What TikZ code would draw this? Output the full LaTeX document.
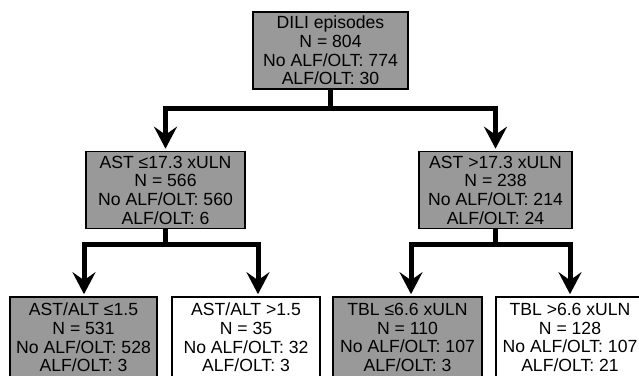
\documentclass[tikz,border=0pt]{standalone}
\usepackage{fontspec}
\setmainfont{Liberation Sans}
\usepackage{tikz}
\usetikzlibrary{positioning, arrows.meta, calc}
\definecolor{splitgrey}{RGB}{153, 153, 153}

\begin{document}
\begin{tikzpicture}[x=1pt, y=-1pt,
    box/.style={draw=black, line width=1.6pt, rectangle, inner sep=0pt,
                minimum height=77pt, align=center,
                font=\fontsize{17.6}{18.7}\selectfont},
    greybox/.style={box, fill=splitgrey},
    whitebox/.style={box, fill=white},
    link/.style={line width=5pt, line join=miter,
                 -{Stealth[length=22pt, width=23pt, inset=8pt]},
                 shorten >=2pt}]
        \useasboundingbox (0,0) rectangle (639,375);
        \clip (0,0) rectangle (639,375);

        \node[greybox, minimum width=155pt] (root) at (330.5, 50.5)
              {DILI episodes\\N = 804\\No ALF/OLT: 774\\ALF/OLT: 30};

        \node[greybox, minimum width=159pt] (astlo) at (165.5, 190)
              {AST ≤17.3 xULN\\N = 566\\No ALF/OLT: 560\\ALF/OLT: 6};
        \node[greybox, minimum width=153pt] (asthi) at (495.5, 190)
              {AST >17.3 xULN\\N = 238\\No ALF/OLT: 214\\ALF/OLT: 24};

        \node[greybox, minimum width=147pt, minimum height=81pt] (ratiolo) at (83.5, 337.5)
              {AST/ALT ≤1.5\\N = 531\\No ALF/OLT: 528\\ALF/OLT: 3};
        \node[whitebox, minimum width=148pt, minimum height=81pt] (ratiohi) at (246, 337.5)
              {AST/ALT >1.5\\N = 35\\No ALF/OLT: 32\\ALF/OLT: 3};
        \node[greybox, minimum width=149pt, minimum height=81pt] (tbllo) at (407.5, 337.5)
              {TBL ≤6.6 xULN\\N = 110\\No ALF/OLT: 107\\ALF/OLT: 3};
        \node[whitebox, minimum width=148pt, minimum height=81pt] (tblhi) at (570, 337.5)
              {TBL >6.6 xULN\\N = 128\\No ALF/OLT: 107\\ALF/OLT: 21};

        % split points
        \coordinate (j0) at ([yshift=-19pt]root.south);
        \coordinate (j1) at ([yshift=-15pt]astlo.south);
        \coordinate (j2) at ([yshift=-15pt]asthi.south);

        \draw[link] (root.south) -- (j0) -| (astlo.north);
        \draw[link] (j0) -| (asthi.north);
        \draw[link] (astlo.south) -- (j1) -| ([xshift=0.5pt]ratiolo.north);
        \draw[link] (j1) -| ([xshift=12pt]ratiohi.north);
        \draw[link] (asthi.south) -- (j2) -| ([xshift=3.5pt]tbllo.north);
        \draw[link] (j2) -| (tblhi.north);
      \end{tikzpicture}
\end{document}
